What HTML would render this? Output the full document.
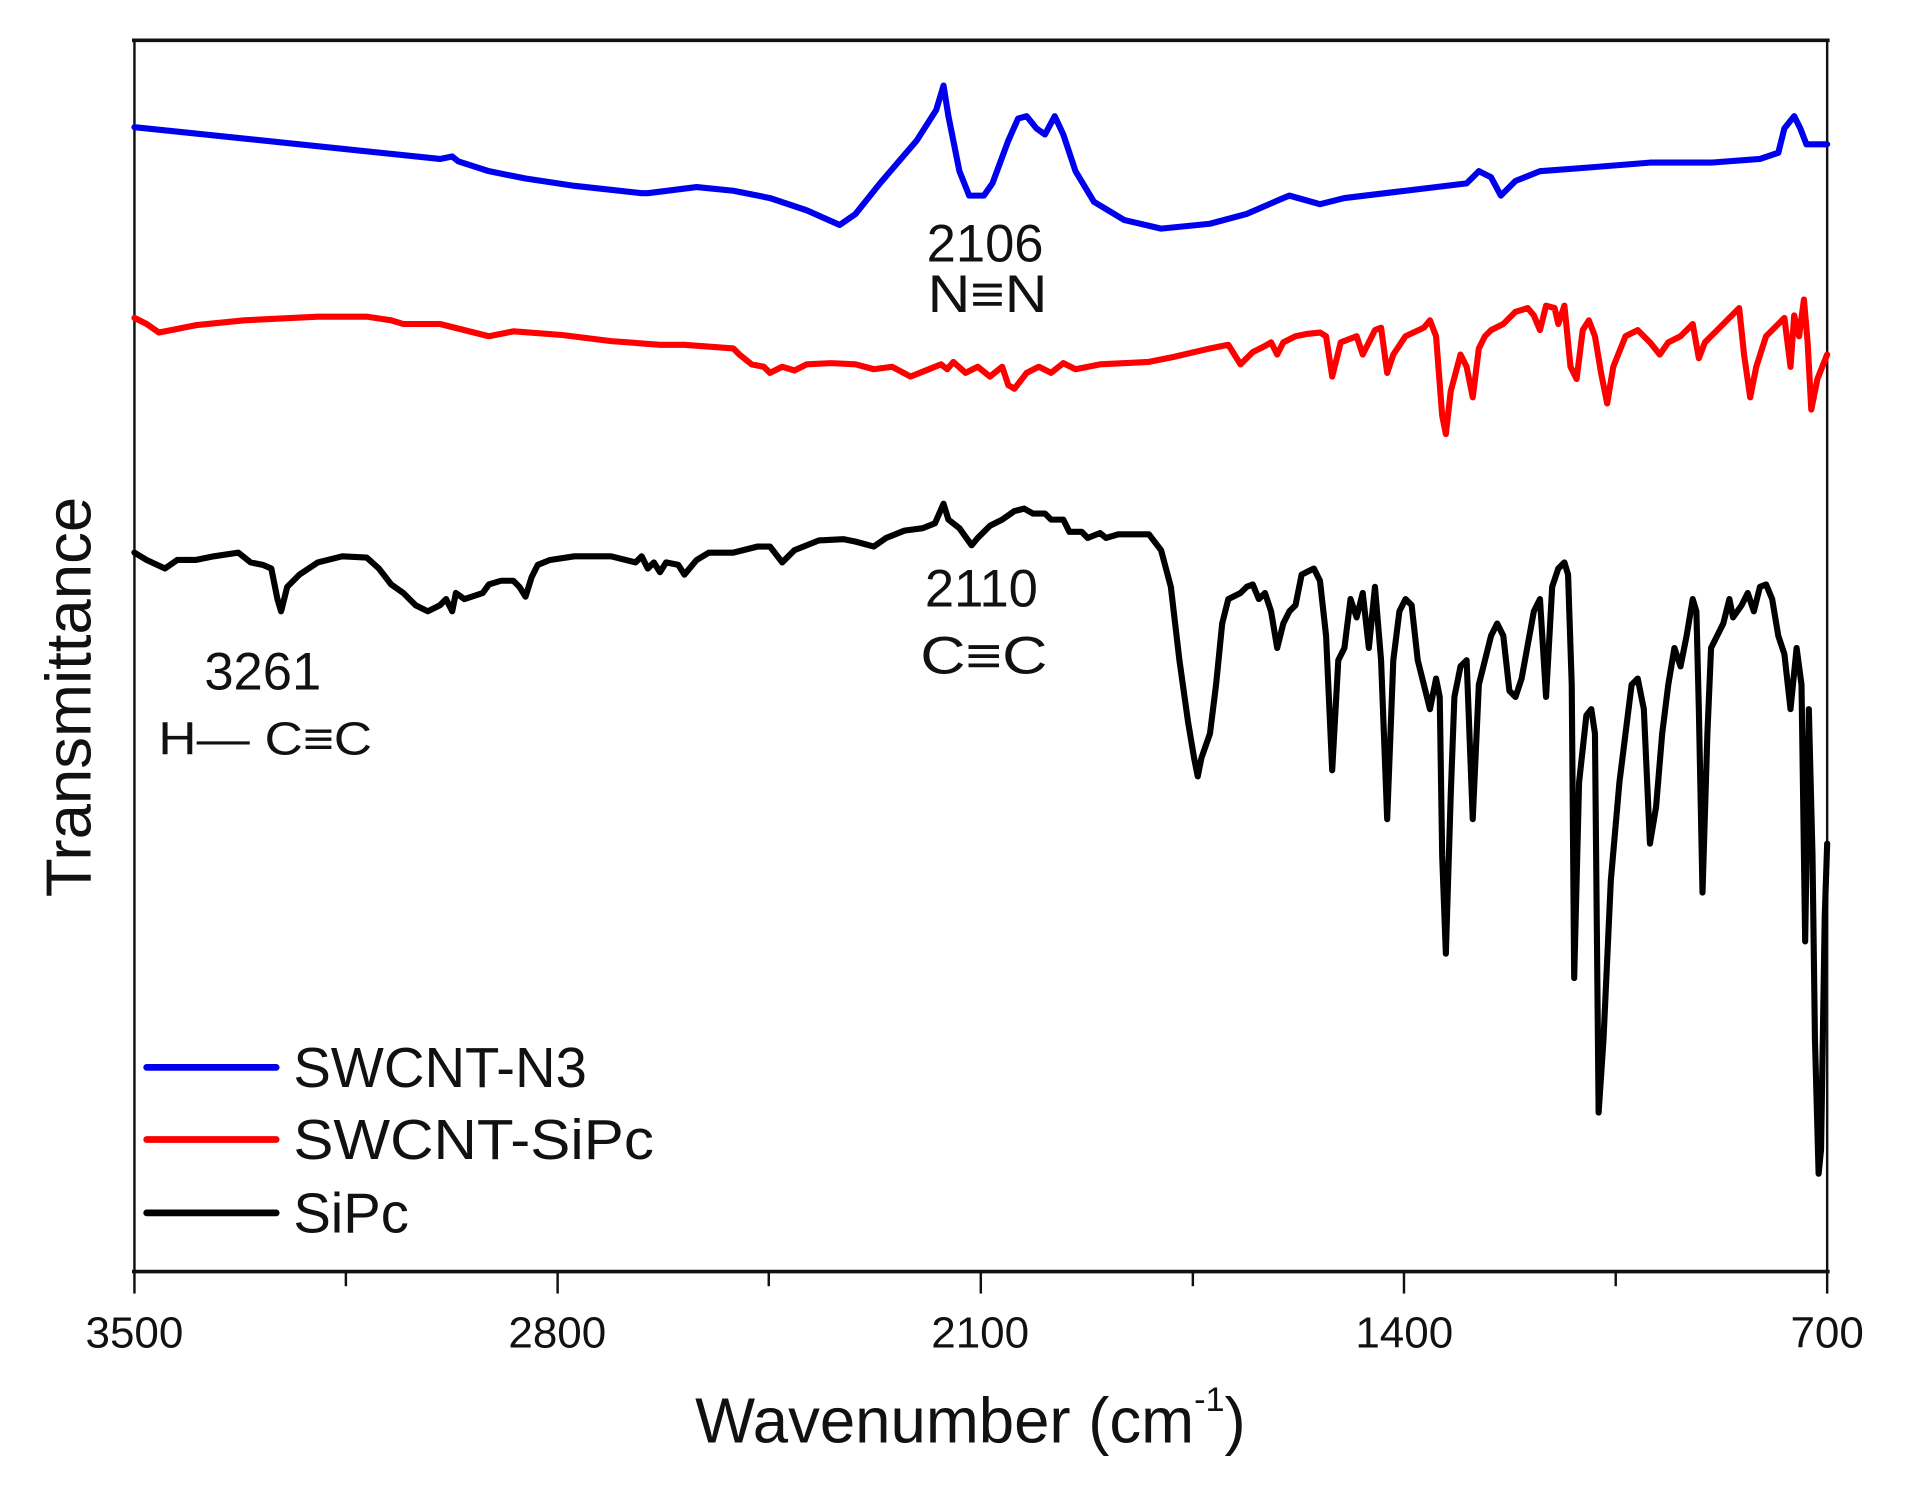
<!DOCTYPE html>
<html><head><meta charset="utf-8"><style>
html,body{margin:0;padding:0;background:#fff;}
svg{display:block;}
text{font-family:"Liberation Sans",Arial,sans-serif;fill:#111;}
</style></head><body>
<svg width="1917" height="1497" viewBox="0 0 1568.5 1224.4" preserveAspectRatio="none" xmlns="http://www.w3.org/2000/svg">
<rect width="1568.5" height="1224.4" fill="#fff"/>
<rect x="110" y="33" width="1385" height="1007" fill="none" stroke="#111" stroke-width="2"/>
<line x1="108" y1="33" x2="1497" y2="33" stroke="#111" stroke-width="3"/>
<line x1="108" y1="1040" x2="1497" y2="1040" stroke="#111" stroke-width="3"/>
<g stroke="#111" stroke-width="2">
<line x1="110" y1="1040" x2="110" y2="1058"/>
<line x1="456.25" y1="1040" x2="456.25" y2="1058"/>
<line x1="802.5" y1="1040" x2="802.5" y2="1058"/>
<line x1="1148.75" y1="1040" x2="1148.75" y2="1058"/>
<line x1="1495" y1="1040" x2="1495" y2="1058"/>
<line x1="283" y1="1040" x2="283" y2="1052"/>
<line x1="629" y1="1040" x2="629" y2="1052"/>
<line x1="976" y1="1040" x2="976" y2="1052"/>
<line x1="1322" y1="1040" x2="1322" y2="1052"/>
</g>
<g font-size="36" text-anchor="middle">
<text x="110" y="1102">3500</text>
<text x="456" y="1102">2800</text>
<text x="802" y="1102">2100</text>
<text x="1149" y="1102">1400</text>
<text x="1495" y="1102">700</text>
</g>
<text x="794" y="1180" font-size="52" text-anchor="middle">Wavenumber (cm<tspan font-size="28" dy="-26">-1</tspan><tspan dy="26">)</tspan></text>
<text transform="translate(74,570) rotate(-90)" font-size="52" text-anchor="middle">Transmittance</text>
<g font-size="43" text-anchor="middle">
<text x="806" y="214">2106</text>
<text x="808" y="255" textLength="98" lengthAdjust="spacingAndGlyphs">N≡N</text>
<text x="803" y="496">2110</text>
<text x="805" y="551" textLength="104" lengthAdjust="spacingAndGlyphs">C≡C</text>
<text x="215" y="564">3261</text>
<text x="217" y="617" font-size="38" textLength="175" lengthAdjust="spacingAndGlyphs">H— C≡C</text>
</g>
<g fill="none" stroke-width="5" stroke-linejoin="round" stroke-linecap="round">
<polyline stroke="#0000ee" points="110,104 360,130 370,128 375,132 400,140 430,146 470,152 525,158 530,158 570,153 600,156 630,162 660,172 687,184 700,175 720,150 750,115 766,90 772,70 776,95 785,140 793,160 805,160 812,150 825,115 833,97 840,95 848,105 855,110 863,95 870,110 880,140 895,165 920,180 950,187 990,183 1020,175 1050,162 1055,160 1080,167 1100,162 1150,156 1200,150 1210,140 1220,145 1228,160 1240,148 1260,140 1300,137 1350,133 1400,133 1440,130 1455,125 1460,105 1468,95 1473,105 1478,118 1490,118 1495,118"/>
<polyline stroke="#ff0000" points="110,260 120,265 130,272 140,270 160,266 200,262 260,259 300,259 320,262 330,265 360,265 380,270 400,275 420,271 460,274 500,279 540,282 560,282 600,285 605,290 615,298 625,300 630,305 640,300 650,303 660,298 680,297 700,298 715,302 730,300 745,308 760,302 770,298 775,302 780,296 790,305 800,300 810,308 820,300 825,315 830,318 840,305 850,300 860,305 870,297 880,302 900,298 940,296 960,292 990,285 1005,282 1015,298 1025,288 1035,283 1040,280 1045,290 1050,280 1060,275 1070,273 1080,272 1085,275 1090,308 1097,280 1110,275 1115,290 1120,280 1125,270 1130,268 1135,305 1140,290 1150,275 1165,268 1170,262 1175,275 1180,340 1183,355 1187,320 1195,290 1200,300 1205,325 1210,285 1215,275 1220,270 1230,265 1240,255 1250,252 1255,258 1260,270 1265,250 1272,252 1275,265 1280,250 1285,300 1290,310 1295,270 1300,262 1305,275 1310,305 1315,330 1320,300 1330,275 1340,270 1350,280 1358,290 1365,280 1375,275 1385,265 1390,293 1395,280 1405,270 1420,255 1423,252 1427,290 1432,325 1437,300 1445,275 1460,260 1465,300 1468,258 1472,275 1476,245 1479,280 1482,335 1487,310 1495,290"/>
<polyline stroke="#000" points="110,452 120,458 135,465 145,458 160,458 175,455 195,452 205,460 215,462 222,465 227,490 230,500 235,480 245,470 260,460 280,455 300,456 310,465 320,478 330,485 340,495 350,500 360,495 365,490 370,500 373,485 380,490 395,485 400,478 410,475 420,475 425,480 430,488 435,472 440,462 450,458 470,455 500,455 520,460 525,455 530,465 535,460 540,468 545,460 555,462 560,470 570,458 580,452 600,452 620,447 630,447 640,460 650,450 670,442 690,441 700,443 715,447 725,440 740,434 755,432 765,428 772,412 776,425 785,432 795,446 800,440 810,430 820,425 830,418 838,416 845,420 855,420 860,425 870,425 875,435 885,435 890,440 900,436 905,440 915,437 925,437 940,437 950,450 958,480 965,540 972,590 977,620 980,635 983,620 990,600 995,560 1000,510 1005,490 1015,485 1020,480 1025,478 1030,490 1035,485 1040,500 1045,530 1050,510 1055,500 1060,495 1065,470 1075,465 1080,475 1085,520 1090,630 1095,540 1100,530 1105,490 1110,505 1115,485 1120,530 1125,480 1130,540 1135,670 1140,540 1145,500 1150,490 1155,495 1160,540 1165,560 1170,580 1175,555 1178,570 1180,700 1183,780 1187,650 1190,570 1195,545 1200,540 1205,670 1210,560 1215,540 1220,520 1225,510 1230,520 1235,565 1240,570 1245,555 1255,500 1260,490 1265,570 1270,480 1275,465 1280,460 1283,470 1286,560 1288,800 1292,640 1298,585 1302,580 1305,600 1308,910 1312,850 1318,720 1325,640 1335,560 1340,555 1345,580 1350,690 1355,660 1360,600 1365,560 1370,530 1375,545 1380,520 1385,490 1388,500 1390,580 1393,730 1397,600 1400,530 1405,520 1410,510 1415,490 1418,505 1425,495 1430,485 1435,500 1440,480 1445,478 1450,490 1455,520 1460,535 1465,580 1470,530 1474,560 1477,770 1480,580 1483,700 1485,850 1488,960 1490,940 1493,750 1495,690"/>
</g>
<g stroke-width="5.5" stroke-linecap="round">
<line x1="120" y1="873" x2="226" y2="873" stroke="#0000ee"/>
<line x1="120" y1="932" x2="226" y2="932" stroke="#ff0000"/>
<line x1="120" y1="992" x2="226" y2="992" stroke="#000"/>
</g>
<g font-size="46">
<text x="240" y="889">SWCNT-N3</text>
<text x="240" y="948" textLength="295" lengthAdjust="spacingAndGlyphs">SWCNT-SiPc</text>
<text x="240" y="1008">SiPc</text>
</g>
</svg>
</body></html>
